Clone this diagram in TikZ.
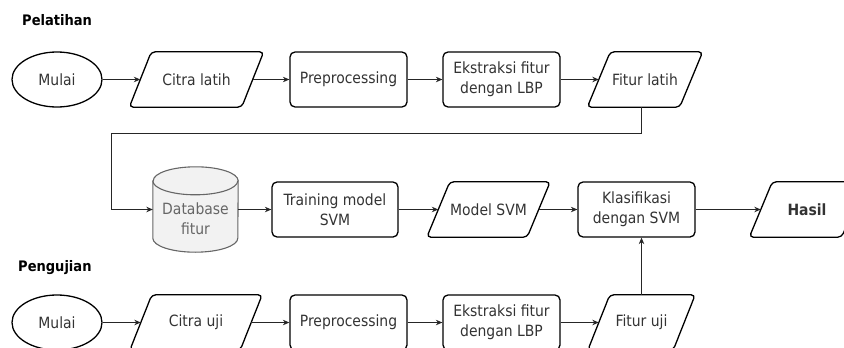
\documentclass[tikz,border=0pt]{standalone}
\usepackage{fontspec}
\setmainfont{DejaVu Sans Condensed}
\usetikzlibrary{arrows.meta,shapes.geometric}
\definecolor{txt}{HTML}{333333}
\definecolor{dbline}{HTML}{666666}
\definecolor{dbfill}{HTML}{F2F2F2}
\tikzset{
  base/.style={font=\fontsize{15.5}{20}\selectfont, text=txt, align=center, inner sep=0pt},
  procbox/.style={base, draw, line width=1.3pt, rounded corners=5pt, minimum width=#1, minimum height=55pt},
  parabox/.style={base, minimum width=#1, minimum height=55pt},
  startbox/.style={base, draw, ellipse, line width=1.3pt, minimum width=90pt, minimum height=55pt},
  dbbox/.style={base, text=dbline, minimum width=85pt, minimum height=85pt},
  title/.style={font=\fontsize{14.5}{17}\selectfont\bfseries, text=black, anchor=west, inner sep=0pt},
  arr/.style={line width=1pt, draw=black!85, -{Stealth[length=6.5pt,width=5.5pt]}},
}
\newcommand\parashape[2]{\draw[line width=1.3pt, rounded corners=4pt]
  ([xshift=-#2]#1.south west) -- ([xshift=#2]#1.north west) --
  ([xshift=#2]#1.north east) -- ([xshift=-#2]#1.south east) -- cycle;}
\begin{document}
\begin{tikzpicture}[x=1pt,y=-1pt]
\useasboundingbox (0,0) rectangle (844,348);
% titles
\node[title] (t1) at (22,20) {Pelatihan};
\node[title] (t2) at (18,268) {Pengujian};
% row 1
\node[startbox] (m1) at (57,79.5) {Mulai};
\node[parabox=112pt] (c1) at (196.5,79.5) {Citra latih};
\parashape{c1}{11pt}
\node[procbox=117pt] (p1) at (348.5,79.5) {Preprocessing};
\node[procbox=117pt] (e1) at (501.5,79.5) {Ekstraksi fitur\\dengan LBP};
\node[parabox=92pt] (f1) at (645,79.5) {Fitur latih};
\parashape{f1}{11.5pt}
% row 2
\node[dbbox] (db) at (195.5,209.5) {};
\draw[line width=1.1pt, draw=dbline, fill=dbfill]
  ([yshift=-14pt]db.north west) -- ([yshift=14pt]db.south west)
  arc[start angle=180, end angle=360, x radius=42.5pt, y radius=14pt]
  -- ([yshift=-14pt]db.north east)
  arc[start angle=0, end angle=180, x radius=42.5pt, y radius=14pt] -- cycle;
\draw[line width=1.1pt, draw=dbline]
  ([yshift=-14pt]db.north west)
  arc[start angle=180, end angle=360, x radius=42.5pt, y radius=14pt];
\node[base, text=dbline] (dbt) at ([yshift=-9pt]db.center) {Database\\fitur};
\node[procbox=126pt] (tr) at (335,209.5) {Training model\\SVM};
\node[parabox=100pt] (ms) at (488.5,209.5) {Model SVM};
\parashape{ms}{11.5pt}
\node[procbox=117pt] (kl) at (636.5,209.5) {Klasifikasi\\dengan SVM};
\node[parabox=92pt] (hs) at (807,209.5) {\bfseries Hasil};
\parashape{hs}{11.5pt}
% row 3
\node[startbox] (m2) at (57,322.5) {Mulai};
\node[parabox=110pt] (c2) at (196,322.5) {Citra uji};
\parashape{c2}{11pt}
\node[procbox=117pt] (p2) at (348.5,322.5) {Preprocessing};
\node[procbox=117pt] (e2) at (501.5,322.5) {Ekstraksi fitur\\dengan LBP};
\node[parabox=85pt] (f2) at (641.5,322.5) {Fitur uji};
\parashape{f2}{11pt}
% connectors
\draw[arr] (m1) -- (c1);
\draw[arr] (c1) -- (p1);
\draw[arr] (p1) -- (e1);
\draw[arr] (e1) -- (f1);
\coordinate (turn) at (111,133);
\draw[arr] ([xshift=-4pt]f1.south) |- (turn) |- (db.west);
\draw[arr] (db.east) -- (tr.west);
\draw[arr] (tr) -- (ms);
\draw[arr] (ms) -- (kl);
\draw[arr] (kl) -- (hs);
\draw[arr] (m2) -- (c2);
\draw[arr] (c2) -- (p2);
\draw[arr] (p2) -- (e2);
\draw[arr] (e2) -- (f2);
\draw[arr] (f2.north) -- (f2.north |- kl.south);
\end{tikzpicture}
\end{document}
